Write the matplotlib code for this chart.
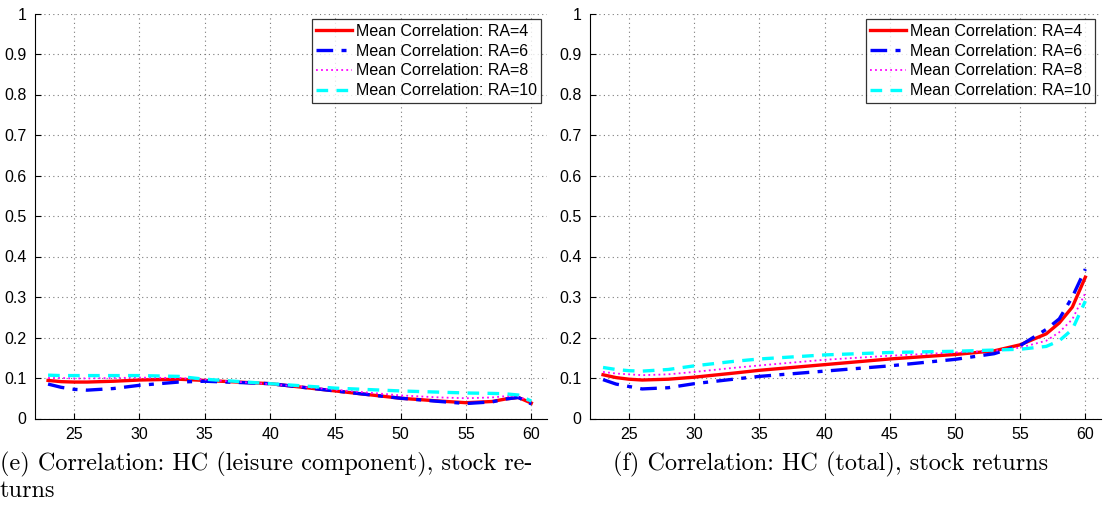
import matplotlib
matplotlib.use("Agg")
import matplotlib.pyplot as plt

ages = [23, 24, 25, 26, 28, 30, 33, 35, 40, 45, 50, 53, 55, 57, 58, 59, 60]

# (e) HC leisure component vs stock returns
e_ra4 = [.094, .091, .090, .090, .092, .095, .097, .094, .086, .068, .050, .043, .039, .042, .048, .052, .038]
e_ra6 = [.085, .077, .072, .070, .074, .082, .090, .092, .086, .068, .050, .042, .037, .041, .048, .052, .036]
e_ra8 = [.100, .100, .099, .099, .100, .101, .100, .096, .085, .071, .057, .052, .050, .052, .055, .055, .040]
e_ra10 = [.107, .106, .106, .106, .106, .106, .104, .097, .086, .075, .068, .065, .063, .062, .061, .058, .043]

# (f) HC total vs stock returns
f_ra4 = [.108, .101, .097, .095, .097, .102, .112, .119, .133, .147, .158, .167, .182, .209, .236, .275, .349]
f_ra6 = [.096, .085, .079, .073, .076, .086, .097, .104, .117, .130, .146, .160, .180, .220, .246, .300, .369]
f_ra8 = [.115, .111, .109, .107, .109, .115, .125, .131, .145, .155, .163, .167, .175, .192, .213, .245, .310]
f_ra10 = [.126, .121, .118, .117, .121, .130, .141, .147, .157, .163, .166, .169, .171, .178, .192, .220, .290]

labels = ["Mean Correlation: RA=4", "Mean Correlation: RA=6",
          "Mean Correlation: RA=8", "Mean Correlation: RA=10"]
xticks = [25, 30, 35, 40, 45, 50, 55, 60]
yticks = [0, 0.1, 0.2, 0.3, 0.4, 0.5, 0.6, 0.7, 0.8, 0.9, 1]
ytick_labels = ["0", "0.1", "0.2", "0.3", "0.4", "0.5", "0.6", "0.7", "0.8", "0.9", "1"]

captions = ["(e) Correlation: HC (leisure component), stock re-\nturns",
            "(f) Correlation: HC (total), stock returns"]

plt.rcParams['font.family'] = ['Liberation Sans', 'DejaVu Sans']

fig = plt.figure(figsize=(11.03, 5.08), dpi=100)
W, H = 1103, 508
ax_e = fig.add_axes([35 / W, (H - 418.5) / H, 512 / W, 405 / H])
ax_f = fig.add_axes([590 / W, (H - 418.5) / H, 511 / W, 405 / H])

panels = [(ax_e, [e_ra4, e_ra6, e_ra8, e_ra10]), (ax_f, [f_ra4, f_ra6, f_ra8, f_ra10])]

for ax, series in panels:
    ax.plot(ages, series[0], color='red', lw=2.4, label=labels[0])
    ax.plot(ages, series[1], color='blue', lw=2.4, linestyle=(0, (5, 2.5, 1.5, 2.5)), label=labels[1])
    ax.plot(ages, series[2], color='magenta', lw=1.3, linestyle=(0, (1, 1.8)), label=labels[2])
    ax.plot(ages, series[3], color='cyan', lw=2.4, linestyle=(0, (3.5, 2.5)), label=labels[3])
    ax.set_xlim(22, 61.2)
    ax.set_ylim(0, 1)
    ax.set_xticks(xticks)
    ax.set_yticks(yticks)
    ax.set_yticklabels(ytick_labels)
    ax.tick_params(direction='in', labelsize=11.5, length=4, pad=6)
    ax.grid(True, linestyle=(0, (1, 3)), color='#7a7a7a', lw=0.8)
    ax.spines['top'].set_visible(False)
    ax.spines['right'].set_visible(False)
    leg = ax.legend(loc='upper right', fontsize=11.5, frameon=True, fancybox=False,
                    borderpad=0.3, labelspacing=0.3, handlelength=2.2,
                    handletextpad=0.25, borderaxespad=0.35)
    leg.get_frame().set_edgecolor('black')
    leg.get_frame().set_linewidth(0.9)

fig.text(0 / W, 1 - 452 / H, captions[0], family='cmr10', fontsize=17.5,
         va='top', ha='left', linespacing=1.15)
fig.text(613 / W, 1 - 452 / H, captions[1], family='cmr10', fontsize=17.5,
         va='top', ha='left')

fig.savefig("out.png", dpi=100)
